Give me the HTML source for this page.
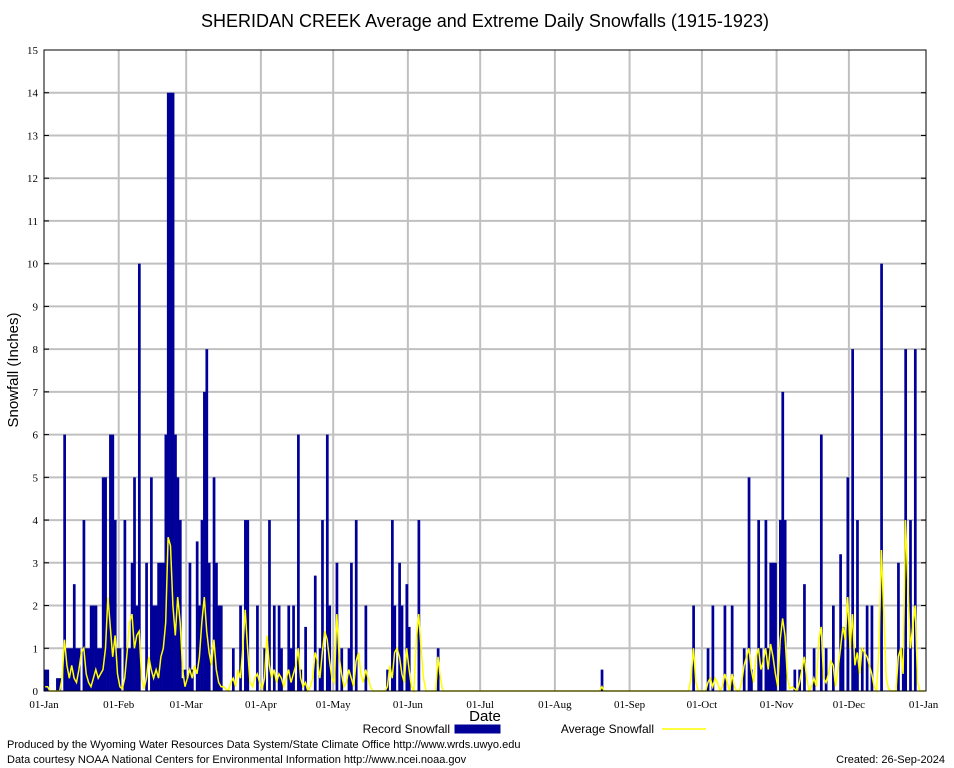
<!DOCTYPE html>
<html><head><meta charset="utf-8"><style>
body{margin:0;background:#fff;width:954px;height:768px;overflow:hidden}
svg{display:block}
</style></head><body>
<svg id="chart" width="954" height="768" xmlns="http://www.w3.org/2000/svg" font-family="Liberation Sans, sans-serif">
<rect width="954" height="768" fill="#fff"/>
<text x="485" y="27" font-size="18" text-anchor="middle">SHERIDAN CREEK Average and Extreme Daily Snowfalls (1915-1923)</text>
<g id="grid"></g><g id="bars"></g><g id="line"></g><g id="axes"></g>
<text transform="translate(18,370) rotate(-90)" font-size="15" text-anchor="middle">Snowfall (Inches)</text>
<text x="485" y="721" font-size="15" text-anchor="middle">Date</text>
<g>
<text x="450" y="733" font-size="12" text-anchor="end">Record Snowfall</text>
<rect x="455" y="725" width="45" height="8" fill="#000099" stroke="#000099"/>
<text x="654" y="733" font-size="12" text-anchor="end">Average Snowfall</text>
<line x1="662" y1="729" x2="706" y2="729" stroke="#ffff00" stroke-width="1.5"/>
</g>
<text x="7" y="748" font-size="11">Produced by the Wyoming Water Resources Data System/State Climate Office http://www.wrds.uwyo.edu</text>
<text x="7" y="763" font-size="11">Data courtesy NOAA National Centers for Environmental Information http://www.ncei.noaa.gov</text>
<text x="945" y="763" font-size="11" text-anchor="end">Created:  26-Sep-2024</text>
</svg>
<script>
const monthLabels=["01-Jan","01-Feb","01-Mar","01-Apr","01-May","01-Jun","01-Jul","01-Aug","01-Sep","01-Oct","01-Nov","01-Dec","01-Jan"];
const monthStartDays=[0,31,59,90,120,151,181,212,243,273,304,334,365];
const yTicks=[0,1,2,3,4,5,6,7,8,9,10,11,12,13,14,15];
const recordDays=[0,1,5,6,8,9,10,11,12,13,14,16,17,18,19,20,21,22,23,24,25,26,27,28,29,30,31,33,34,35,36,37,38,39,42,44,45,46,47,48,49,50,51,52,53,54,55,56,57,58,59,
60,61,63,64,65,66,67,68,70,71,72,73,78,81,83,84,88,91,93,95,97,98,101,102,103,105,106,108,112,114,115,117,118,121,123,126,127,129,133,142,144,145,147,148,150,151,155,163,
231,
269,275,277,282,285,290,292,293,296,297,299,300,301,302,303,305,306,307,311,313,315,319,322,324,327,330,331,333,335,336,337,339,341,343,347,354,356,357,359,361];
const recordValues=[0.5,0.5,0.3,0.3,6,1,1,1,2.5,1,1,4,1,1,2,2,2,1,1,5,5,2,6,6,4,1,1,4,1,1,3,5,2,10,3,5,2,2,3,3,3,6,14,14,14,6,5,4,0.3,0.5,0.3,
3,0.5,3.5,2,4,7,8,3,5,3,2,2,1,2,4,4,2,1,4,2,2,1,2,1,2,6,0.5,1.5,2.7,1,4,6,2,3,1,1,3,4,2,0.5,4,2,3,2,2.5,1.5,4,1,
0.5,
2,1,2,2,2,1,5,0.5,4,1,4,1,3,3,3,4,7,4,0.5,0.5,2.5,1,6,1,2,3.2,1.5,5,8,1,4,1,2,2,10,3,1,8,4,8];
const avgValues=[
0.1,0.1,0,0,0,0,0,0.3,1.2,0.6, 0.3,0.6,0.3,0.2,0.5,0.9,1.0,0.4,0.2,0.1,
0.3,0.5,0.3,0.4,0.5,1.0,2.2,1.5,0.8,1.3, 0.4,0.1,0.05,0.3,0.9,1.6,1.8,1.0,1.3,1.4,
0.3,0.05,0.3,0.8,0.5,0.3,0.5,0.3,0.8,1.0, 1.6,3.6,3.4,2.0,1.3,2.2,1.6,0.5,0.1,0.3,
0.5,0.3,0.6,0.4,0.8,1.6,2.2,1.4,0.9,0.6, 1.2,0.5,0.2,0.1,0.1,0.05,0,0.2,0.3,0.1,
0.5,0.3,1.0,1.9,1.0,0.2,0.1,0.3,0.4,0.2, 0.05,0.3,1.3,0.6,0.3,0.5,0.2,0.4,0.3,0.1,
0.3,0.5,0.2,0.4,0.6,1.0,0.3,0.1,0.2,0, 0.1,0.3,0.9,0.7,0.3,0.9,1.4,1.2,0.7,0.3,
0.2,1.8,0.8,0.4,0.1,0.2,0.5,0.3,0.1,0.7, 0.9,0.4,0.2,0.5,0.3,0.1,0,0,0,0,
0,0,0.1,0.6,0.3,0.9,1.0,0.8,0.4,0.2, 1.0,0.5,0.1,0,1.2,1.8,1.0,0.3,0,0,
0,0,0,0.8,0.3,0,0,0,0,0, 0,0,0,0,0,0,0,0,0,0,
0,0,0,0,0,0,0,0,0,0, 0,0,0,0,0,0,0,0,0,0,
0,0,0,0,0,0,0,0,0,0, 0,0,0,0,0,0,0,0,0,0,
0,0,0,0,0,0,0,0,0,0, 0,0.1,0,0,0,0,0,0,0,0,
0,0,0,0,0,0,0,0,0,0, 0,0,0,0,0,0,0,0,0,0,
0,0,0,0,0,0,0,0,0.3,1.0, 0.2,0,0,0,0,0.2,0.3,0.1,0.3,0.2,
0,0.1,0.4,0.2,0,0.4,0.1,0,0,0.2, 0.6,0.8,1.0,0.5,0.2,0.8,1.0,0.5,0.7,1.0,
0.5,1.1,0.8,0.4,0.1,1.2,1.7,1.3,0.3,0.05, 0.1,0.05,0,0.2,0.5,0.8,0.3,0,0.1,0.3,
0.1,1.2,1.5,0.3,0.2,0.4,0.7,0.6,0.1,0.5, 1.0,1.5,1.2,2.2,1.0,1.8,0.6,0.9,0.4,1.0,
0.9,0.8,0.6,0.4,0.1,0,1.0,3.3,1.8,0.3, 0.05,0,0,0,0.8,1.0,0.4,4.0,2.5,1.0,
1.5,2.0,0.2,0,0,0];
const NS="http://www.w3.org/2000/svg";
const X0=44,X1=926,Y0=691,Y1=50,NDAYS=366;
const xScale=d=>X0+d*(X1-X0)/NDAYS;
const yScale=v=>Y0-v*(Y0-Y1)/15;
function mk(tag,attrs,parent){const e=document.createElementNS(NS,tag);for(const k in attrs)e.setAttribute(k,attrs[k]);parent.appendChild(e);return e;}
const grid=document.getElementById('grid'),bars=document.getElementById('bars'),line=document.getElementById('line'),axes=document.getElementById('axes');
yTicks.forEach(v=>{
  if(v>0&&v<15){const g=mk('line',{x1:X0,x2:X1,y1:yScale(v),y2:yScale(v),stroke:'#c0c0c0','stroke-width':2},grid);
  
  }
  const t=mk('text',{x:X0-6,y:yScale(v)+4,'font-size':11,'text-anchor':'end','font-family':'Liberation Serif, serif'},axes);
  t.textContent=v;
  
  
  mk('line',{x1:X0,x2:X0+5,y1:yScale(v),y2:yScale(v),stroke:'#000'},axes);
  mk('line',{x1:X1-5,x2:X1,y1:yScale(v),y2:yScale(v),stroke:'#000'},axes);
});
monthStartDays.forEach((d,i)=>{
  const x=xScale(d);
  if(i>0&&i<12){const g=mk('line',{x1:x,x2:x,y1:Y1,y2:Y0,stroke:'#c0c0c0','stroke-width':2},grid);
  
  }
  const t=mk('text',{x:x,y:708,'font-size':11,'text-anchor':'middle','font-family':'Liberation Serif, serif'},axes);
  t.textContent=monthLabels[i];
  
  
});
const bw=(X1-X0)/NDAYS;
recordDays.forEach((d,i)=>{
  const y=yScale(recordValues[i]);
  const r=mk('rect',{x:xScale(d),y:y,width:bw+0.3,height:Y0-y,fill:'#000099'},bars);
  
  
});
const pts=avgValues.map((v,d)=>xScale(d+0.5).toFixed(1)+','+yScale(v).toFixed(1)).join(' ');
const pl=mk('polyline',{points:pts,fill:'none',stroke:'#ffff00','stroke-width':1.5},line);


const fr=mk('rect',{x:X0,y:Y1,width:X1-X0,height:Y0-Y1,fill:'none',stroke:'#000','stroke-width':1},axes);


</script>
</body></html>
